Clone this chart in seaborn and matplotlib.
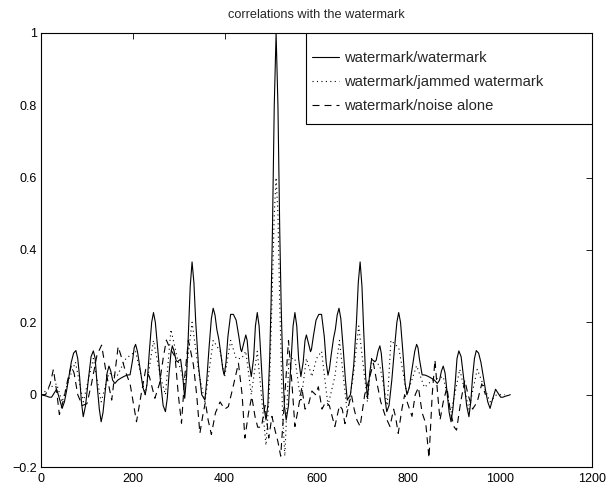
import matplotlib
matplotlib.use("Agg")
import matplotlib.pyplot as plt
import seaborn as sns
from matplotlib.patches import Rectangle

# ---------------- data ----------------
title = "correlations with the watermark"
labels = ["watermark/watermark", "watermark/jammed watermark", "watermark/noise alone"]

ww_x = [0, 6, 12, 18, 23, 29, 34, 40, 46, 51, 56, 62, 66, 71, 76, 80, 84, 88, 92, 97, 103, 109,
        114, 118, 122, 127, 131, 135, 140, 144, 148, 152, 156, 161, 167, 173, 180, 187, 194, 200,
        203, 206, 210, 216, 222, 227, 231, 236, 241, 245, 249, 254, 260, 266, 271, 275, 279, 283,
        286, 290, 294, 297, 301, 304, 308, 313, 317, 321, 325, 329, 333, 337, 343, 350, 357, 361,
        366, 371, 375, 379, 383, 387, 392, 396, 399, 403, 407, 413, 419, 425, 431, 435, 437, 442,
        446, 449, 453, 458, 463, 467, 471, 475, 480, 485, 490, 494, 498, 501, 504, 508, 512,
        516, 520, 523, 526, 530, 534, 539, 544, 549, 553, 557, 561, 566, 571, 575, 578, 582, 587,
        589, 593, 599, 605, 611, 617, 621, 625, 628, 632, 637, 641, 645, 649, 653, 658, 663, 667,
        674, 681, 687, 691, 695, 699, 703, 707, 711, 716, 720, 723, 727, 730, 734, 738, 741, 745,
        749, 753, 758, 764, 770, 775, 779, 783, 788, 793, 797, 802, 808, 814, 818, 821, 824, 830,
        837, 844, 851, 857, 863, 868, 872, 876, 880, 884, 889, 893, 897, 902, 906, 910, 915, 921,
        927, 932, 936, 940, 944, 948, 953, 958, 962, 968, 973, 978, 984, 990, 995, 1001, 1006,
        1012, 1018, 1022]
ww_y = [0.0, -0.002, -0.004, -0.007, -0.007, 0.005, 0.015, -0.01, -0.038, -0.02, 0.013, 0.06,
        0.09, 0.115, 0.122, 0.1, 0.05, -0.02, -0.061, -0.03, 0.04, 0.105, 0.121, 0.1, 0.03, -0.04,
        -0.075, -0.05, 0.01, 0.06, 0.079, 0.065, 0.04, 0.031, 0.04, 0.045, 0.05, 0.054, 0.055,
        0.1, 0.13, 0.139, 0.12, 0.07, 0.02, 0.0, 0.03, 0.12, 0.2, 0.227, 0.2, 0.13, 0.04, -0.03,
        -0.047, -0.01, 0.06, 0.115, 0.135, 0.12, 0.095, 0.091, 0.095, 0.098, 0.06, -0.01, 0.05,
        0.17, 0.3, 0.367, 0.31, 0.2, 0.08, 0.0, -0.015, 0.04, 0.13, 0.21, 0.239, 0.22, 0.18, 0.155,
        0.11, 0.07, 0.054, 0.09, 0.16, 0.222, 0.222, 0.206, 0.16, 0.125, 0.119, 0.145, 0.165,
        0.15, 0.09, 0.05, 0.1, 0.19, 0.227, 0.19, 0.08, -0.03, -0.07, -0.03, 0.1, 0.25, 0.45,
        0.8, 1.0,
        0.8, 0.45, 0.25, 0.1, -0.03, -0.07, -0.03, 0.08, 0.19, 0.227, 0.19, 0.1, 0.05, 0.09,
        0.15, 0.165, 0.145, 0.119, 0.125, 0.16, 0.206, 0.222, 0.222, 0.16, 0.09, 0.054, 0.07,
        0.11, 0.155, 0.18, 0.22, 0.239, 0.21, 0.13, 0.04, -0.015, 0.0, 0.08, 0.2, 0.31, 0.367,
        0.3, 0.17, 0.05, -0.01, 0.06, 0.098, 0.095, 0.091, 0.095, 0.12, 0.135, 0.115, 0.06,
        -0.01, -0.047, -0.03, 0.04, 0.13, 0.2, 0.227, 0.2, 0.12, 0.03, 0.0, 0.02, 0.07, 0.12,
        0.139, 0.13, 0.1, 0.055, 0.054, 0.05, 0.045, 0.04, 0.031, 0.04, 0.065, 0.079, 0.06, 0.01,
        -0.05, -0.075, -0.04, 0.03, 0.1, 0.121, 0.105, 0.04, -0.03, -0.061, -0.02, 0.05, 0.1,
        0.122, 0.115, 0.09, 0.06, 0.013, -0.02, -0.038, -0.01, 0.015, 0.005, -0.007, -0.007,
        -0.004, -0.002, 0.0]

wj_x = [0, 20, 34, 46, 60, 75, 92, 114, 131, 148, 165, 185, 206, 227, 245, 260, 271, 283, 297,
        313, 329, 345, 357, 375, 390, 400, 413, 425, 437, 446, 458, 471, 480, 490, 497, 504, 508,
        512, 516, 520, 526, 531, 540, 553, 566, 578, 590, 600, 611, 625, 640, 650, 667, 680, 692,
        700, 711, 720, 738, 754, 762, 779, 797, 818, 835, 852, 876, 893, 912, 932, 950, 978, 992,
        1010]
wj_y = [0.0, 0.02, 0.03, -0.02, 0.04, 0.09, -0.02, 0.1, -0.02, 0.06, 0.05, 0.1, 0.12, 0.0, 0.15,
        0.05, 0.0, 0.18, 0.1, 0.03, 0.2, 0.05, -0.02, 0.15, 0.12, 0.05, 0.15, 0.1, 0.1, 0.12, 0.0,
        0.12, 0.0, -0.14, 0.0, 0.3, 0.5, 0.6, 0.5, 0.25, -0.05, -0.17, 0.1, 0.1, -0.02, 0.1, 0.05,
        0.1, 0.12, -0.03, 0.05, 0.15, -0.05, 0.05, 0.19, 0.1, -0.02, 0.1, 0.08, -0.03, 0.15, 0.13,
        0.0, 0.08, 0.02, 0.04, 0.05, -0.05, 0.07, -0.04, 0.07, -0.02, 0.0, 0.0]

wn_x = [0, 10, 20, 27, 34, 40, 50, 58, 66, 72, 80, 90, 100, 110, 122, 132, 142, 154, 161, 168,
        176, 185, 194, 208, 218, 228, 236, 248, 258, 266, 273, 280, 292, 299, 306, 313, 321, 326,
        332, 339, 346, 352, 358, 364, 371, 380, 390, 400, 408, 418, 430, 438, 444, 452, 459, 466,
        472, 480, 488, 496, 503, 510, 516, 522, 530, 539, 546, 553, 560, 568, 575, 582, 590, 598,
        604, 612, 620, 628, 634, 640, 650, 656, 662, 670, 676, 682, 688, 695, 705, 714, 724, 732,
        740, 750, 760, 768, 772, 778, 786, 792, 800, 808, 815, 822, 830, 838, 845, 852, 858, 864,
        869, 876, 884, 892, 900, 905, 914, 923, 930, 940, 950, 960, 968]
wn_y = [0.0, 0.0, 0.03, 0.07, 0.01, -0.055, -0.01, 0.04, 0.08, 0.06, 0.0, -0.03, -0.025, 0.03,
        0.11, 0.137, 0.06, -0.015, 0.06, 0.133, 0.1, 0.06, 0.03, -0.075, 0.0, 0.07, 0.05, -0.01,
        0.03, 0.1, 0.151, 0.13, 0.105, 0.0, -0.079, 0.05, 0.15, 0.12, 0.082, 0.0, -0.107, -0.06,
        -0.02, -0.07, -0.11, -0.05, -0.02, -0.04, -0.033, 0.02, 0.087, 0.0, -0.12, -0.05, -0.005,
        -0.06, -0.09, -0.09, -0.03, -0.12, -0.06, -0.1, -0.13, -0.17, -0.02, 0.15, 0.04, -0.088,
        -0.04, 0.02, -0.04, -0.03, 0.01, 0.0, 0.022, -0.04, -0.02, -0.03, -0.06, -0.088, -0.03,
        -0.04, -0.08, -0.03, 0.0, -0.04, -0.07, -0.088, 0.0, 0.04, 0.087, 0.03, -0.02, -0.06,
        -0.088, -0.04, -0.06, -0.107, -0.04, 0.0, -0.03, -0.06, 0.0, 0.02, -0.05, -0.08, -0.175,
        0.0, 0.096, 0.0, -0.07, -0.02, 0.02, -0.05, -0.09, -0.098, -0.02, 0.04, 0.0, -0.04, -0.02,
        0.03, 0.0]

x_ticks = [0, 200, 400, 600, 800, 1000, 1200]
y_ticks = [-0.2, 0, 0.2, 0.4, 0.6, 0.8, 1]
y_tick_labels = ["\u22120.2", "0", "0.2", "0.4", "0.6", "0.8", "1"]

# ---------------- style ----------------
sns.set_theme(style="white")
plt.rcParams["font.family"] = ["Liberation Sans", "DejaVu Sans"]
plt.rcParams["font.size"] = 9

W, H = 609, 487
fig = plt.figure(figsize=(W / 100, H / 100), dpi=100)
L, R, T, B = 41, 592, 33, 467
ax = fig.add_axes([L / W, 1 - B / H, (R - L) / W, (B - T) / H])

lw = 0.8
sns.lineplot(x=ww_x, y=ww_y, ax=ax, color="black", linewidth=lw, linestyle="-",
             estimator=None, label=labels[0])
sns.lineplot(x=wj_x, y=wj_y, ax=ax, color="black", linewidth=lw, linestyle=(0, (1, 3)),
             estimator=None, label=labels[1])
sns.lineplot(x=wn_x, y=wn_y, ax=ax, color="black", linewidth=lw, linestyle=(0, (6.3, 4.5)),
             estimator=None, label=labels[2])

ax.set_xlim(0, 1200)
ax.set_ylim(-0.2, 1)
ax.set_xticks(x_ticks)
ax.set_xticklabels([str(v) for v in x_ticks])
ax.set_yticks(y_ticks)
ax.set_yticklabels(y_tick_labels)
ax.tick_params(direction="in", length=4, width=0.6, top=True, right=True,
               labelsize=9, colors="black")
ax.tick_params(axis="x", pad=4)
ax.tick_params(axis="y", pad=3)
for s in ax.spines.values():
    s.set_visible(True)
    s.set_color("black")
    s.set_linewidth(0.8)
ax.set_xlabel("")
ax.set_ylabel("")
ax.set_title(title, fontsize=9.2, pad=10.5)

# legend box (MATLAB style)
lx0 = (306 - L) / (R - L)
ly0 = (B - 124) / (B - T)
ax.add_patch(Rectangle((lx0, ly0), 1 - lx0, 1 - ly0, transform=ax.transAxes,
                       facecolor="white", edgecolor="black", linewidth=0.8, zorder=5))
handles = ax.get_lines()[:3]
leg_fs = 10.6
bpad = 1.25
leg = ax.legend(handles, labels, loc="upper left",
                bbox_to_anchor=((311.5 - bpad * leg_fs * 100 / 72 - L) / (R - L), 1.0),
                borderaxespad=0, borderpad=bpad, frameon=False, handlelength=1.9,
                handletextpad=0.34, labelspacing=0.68, fontsize=leg_fs)
leg.set_zorder(6)

fig.savefig("out.png", dpi=100, facecolor="white")
